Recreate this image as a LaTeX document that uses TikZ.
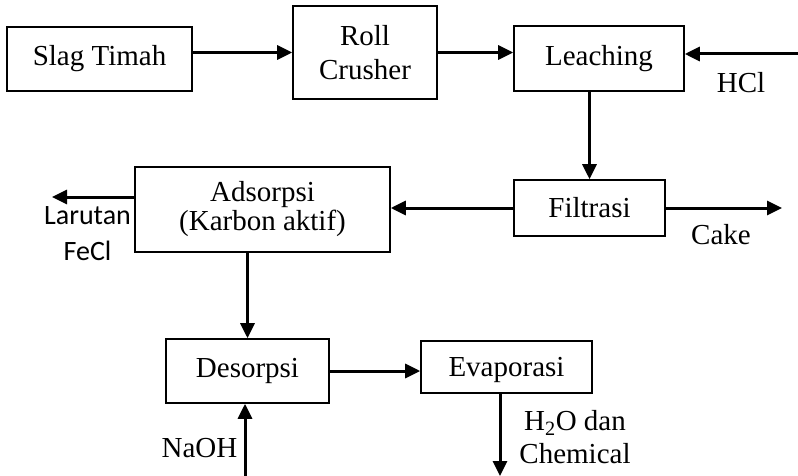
\documentclass[tikz,border=0pt]{standalone}
\usepackage{fontspec}
\setmainfont{Liberation Serif}
\newfontfamily\sidefont{Carlito}
\usetikzlibrary{arrows.meta}

\begin{document}
\begin{tikzpicture}[x=1pt, y=-1pt,
		box/.style={draw, rectangle, line width=1.6pt, inner sep=0pt,
			align=center, font=\fontsize{29}{34}\selectfont},
		flow/.style={-{Triangle[length=15pt, width=14pt]}, line width=3pt},
		lbl/.style={inner sep=0pt, align=center, font=\fontsize{29}{33}\selectfont}]
	\useasboundingbox (0,0) rectangle (798,476);

	\node[box, minimum width=185pt, minimum height=64pt] (slag)    at (99.5,59)
		{Slag Timah};
	\node[box, minimum width=144pt, minimum height=93pt] (roll)    at (365,52.5)
		{Roll\\Crusher};
	\node[box, minimum width=170pt, minimum height=65pt] (leach)   at (599,58.5)
		{Leaching};
	\node[box, minimum width=151pt, minimum height=56pt] (filt)    at (589.5,208)
		{Filtrasi};
	\node[box, minimum width=255pt, minimum height=85pt,
		font=\fontsize{29}{29}\selectfont]                 (adsorp)  at (262.5,209.5)
		{Adsorpsi\\(Karbon aktif)};
	\node[box, minimum width=163pt, minimum height=64pt] (desorp)  at (247.5,371)
		{Desorpsi};
	\node[box, minimum width=171pt, minimum height=52pt,
		text depth=0pt]                                    (evap)    at (506.5,367)
		{Evaporasi};

	\coordinate (hclin)  at (798,54);
	\coordinate (cakeout) at (782,208);
	\coordinate (feclout) at (52,197);
	\coordinate (evout)  at (500,476);
	\coordinate (naohin) at (245,476);

	\node[lbl] (hcl)     at (741,83)   {HCl};
	\node[lbl] (cake)    at (721,235)  {Cake};
	\node[lbl, font=\sidefont\fontsize{28}{36}\selectfont] (larutan) at (87.5,234)
		{Larutan\\FeCl};
	\node[lbl] (h2o)     at (575,437)  {H\textsubscript{2}O dan\\Chemical};
	\node[lbl] (naoh)    at (199.5,448) {NaOH};

	\draw[flow] (slag.east |- roll.west) -- (roll.west);
	\draw[flow] (roll.east) -- (roll.east -| leach.west);
	\draw[flow] (hclin) -- (hclin -| leach.east);
	\draw[flow] (leach.south -| filt.north) -- (filt.north);
	\draw[flow] (filt.west) -- (filt.west -| adsorp.east);
	\draw[flow] (filt.east) -- (cakeout);
	\draw[flow] (feclout -| adsorp.west) -- (feclout);
	\draw[flow] (adsorp.south -| desorp.north) -- (desorp.north);
	\draw[flow] (desorp.east) -- (desorp.east -| evap.west);
	\draw[flow] (evout |- evap.south) -- (evout);
	\draw[flow] (naohin) -- (naohin |- desorp.south);
\end{tikzpicture}
\end{document}
